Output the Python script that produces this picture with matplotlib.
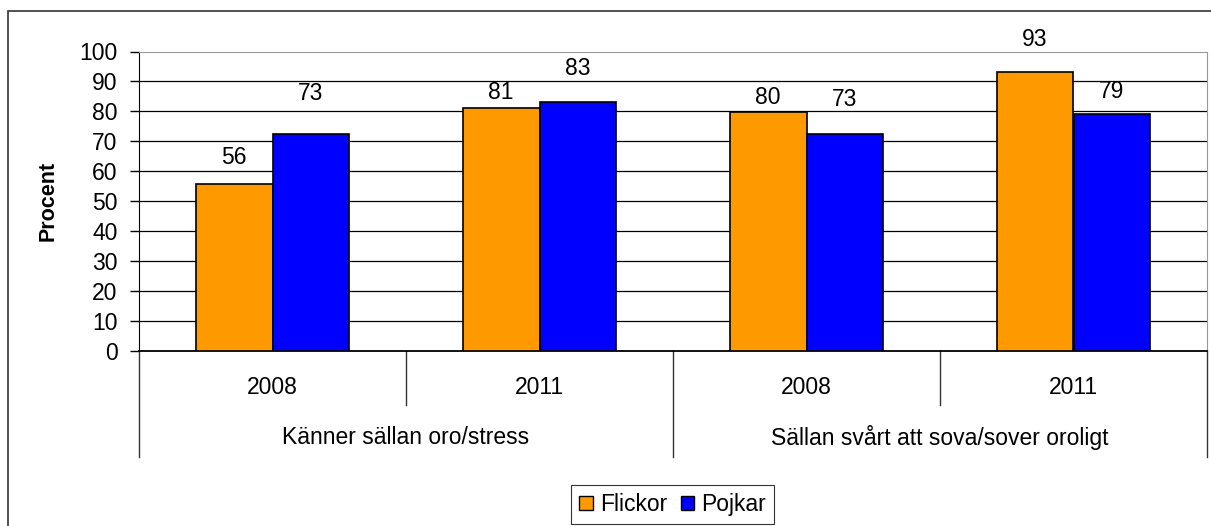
import numpy as np
import matplotlib.pyplot as plt
from matplotlib.patches import Rectangle, Patch
import matplotlib.transforms as mtransforms

plt.rcParams['font.family'] = ['Liberation Sans', 'DejaVu Sans']

# data
years = ['2008', '2011', '2008', '2011']
groups = ['Känner sällan oro/stress', 'Sällan svårt att sova/sover oroligt']
flickor = [55.8, 81.1, 79.8, 93.1]
pojkar = [72.6, 83.1, 72.6, 79.1]
series_names = ['Flickor', 'Pojkar']

# label lift above each bar (pixels), labels were placed by hand in the original
lift_flickor = [26, 16, 14, 33]
lift_pojkar = [40, 34, 34, 23]

FS = 16.5
W, H = 1211, 526
fig = plt.figure(figsize=(W / 100, H / 100), dpi=100)

# outer chart frame (runs off the right/bottom edge)
fig.patches.append(Rectangle((8 / W, -0.1), 1.2, 1 - 11 / H + 0.1, transform=fig.transFigure,
                             fill=False, edgecolor='#333333', linewidth=1.2))

left, right, top, bottom = 139, 1207, 51.5, 351
ax = fig.add_axes([left / W, 1 - bottom / H, (right - left) / W, (bottom - top) / H])

x = np.arange(len(years))
bw = 0.288
b1 = ax.bar(x - bw / 2, flickor, bw, color='#FF9900', edgecolor='black', linewidth=1.2, zorder=3)
b2 = ax.bar(x + bw / 2, pojkar, bw, color='#0000FF', edgecolor='black', linewidth=1.2, zorder=3)

for bars, vals, lifts in ((b1, flickor, lift_flickor), (b2, pojkar, lift_pojkar)):
    for rect, v, d in zip(bars, vals, lifts):
        ax.annotate(f'{v:.0f}', (rect.get_x() + rect.get_width() / 2, rect.get_height()),
                    xytext=(0, d * 0.72), textcoords='offset points', ha='center', va='center',
                    fontsize=FS)

ax.set_xlim(-0.5, len(years) - 0.5)
ax.set_ylim(0, 100)
ax.set_yticks(range(0, 101, 10))
ax.tick_params(axis='y', labelsize=FS, length=6.5, width=1, direction='out', pad=9)
ax.set_xticks([])
for y in range(10, 100, 10):
    ax.axhline(y, color='black', linewidth=0.9, zorder=1)

ax.spines['top'].set_color('#999999')
ax.spines['right'].set_color('#999999')
ax.spines['left'].set_color('black')
ax.spines['bottom'].set_color('black')
ax.spines['bottom'].set_linewidth(1.3)

ax.set_ylabel('Procent', fontsize=FS - 1, fontweight='bold', labelpad=15)

# two-level category axis
trans = mtransforms.blended_transform_factory(ax.transData, fig.transFigure)
y_axis = 1 - bottom / H
y_short = 1 - 405 / H
y_long = 1 - 457 / H
for xs in [0.5, 2.5]:
    ax.plot([xs, xs], [y_axis, y_short], transform=trans, color='#333333', lw=1, clip_on=False)
for xs in [-0.5, 1.5, 3.5]:
    ax.plot([xs, xs], [y_axis, y_long], transform=trans, color='#333333', lw=1, clip_on=False)
for xi, lab in zip(x, years):
    fig.text(xi, 1 - 387 / H, lab, transform=trans, ha='center', va='center', fontsize=FS)
for gi, g in enumerate(groups):
    fig.text(2 * gi + 0.5, 1 - 438 / H, g, transform=trans, ha='center', va='center', fontsize=FS)

handles = [Patch(facecolor='#FF9900', edgecolor='black', label=series_names[0]),
           Patch(facecolor='#0000FF', edgecolor='black', label=series_names[1])]
leg = fig.legend(handles=handles, loc='upper center', bbox_to_anchor=(672.5 / W, 1 - 485 / H),
                 ncol=2, fontsize=FS, frameon=True, fancybox=False, handlelength=0.6,
                 handleheight=0.6, handletextpad=0.3, columnspacing=0.6, borderpad=0.35,
                 borderaxespad=0)
leg.get_frame().set_edgecolor('black')
leg.get_frame().set_linewidth(0.8)

fig.savefig('out.png', dpi=100)
